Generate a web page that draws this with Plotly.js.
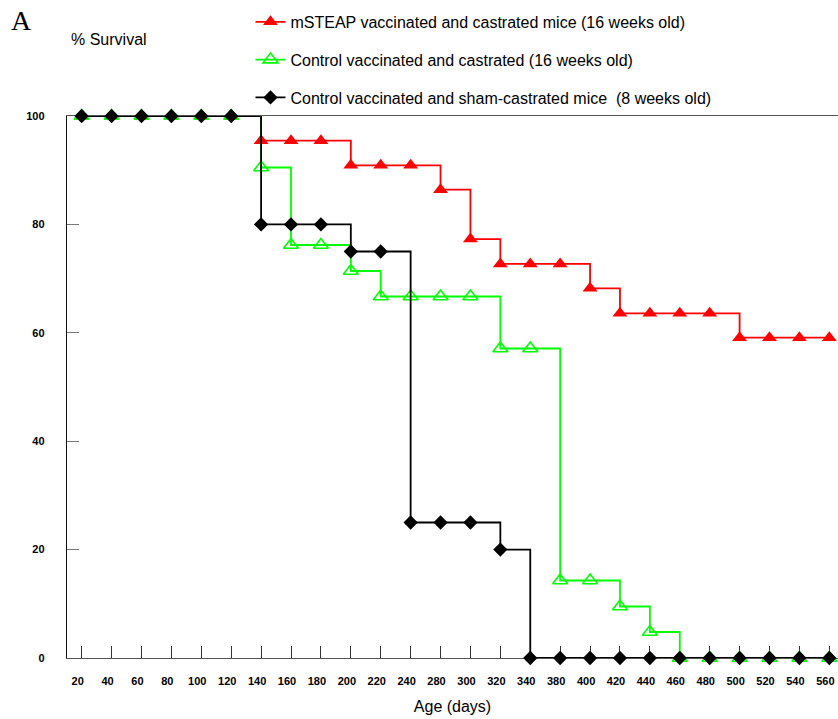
<!DOCTYPE html>
<html><head><meta charset="utf-8">
<script src="https://cdn.plot.ly/plotly-3.0.1.min.js"></script>
<style>html,body{margin:0;padding:0;background:#fff}#chart{width:838px;height:719px}</style>
</head><body><div id="chart"></div>
<script>
// Age tick labels as printed on the original axis (260 and 360 are not shown)
const ageLabels = ['20','40','60','80','100','120','140','160','180','200','220','240','280','300','320','340','380','400','420','440','460','480','500','520','540','560'];
// % survival
const mSTEAPCastrated = [100,100,100,100,100,100,95.45,95.45,95.45,90.9,90.9,90.9,86.4,77.3,72.7,72.7,72.7,68.2,63.6,63.6,63.6,63.6,59.1,59.1,59.1,59.1];
const controlCastrated = [100,100,100,100,100,100,90.5,76.2,76.2,71.4,66.7,66.7,66.7,66.7,57.1,57.1,14.3,14.3,9.5,4.8,0,0,0,0,0,0];
const controlSham = [100,100,100,100,100,100,80,80,80,75,75,25,25,25,20,0,0,0,0,0,0,0,0,0,0,0];
const seriesNames = ['mSTEAP vaccinated and castrated mice (16 weeks old)','Control vaccinated and castrated (16 weeks old)','Control vaccinated and sham-castrated mice  (8 weeks old)'];

const font = 'Arial, "Liberation Sans", Helvetica, sans-serif';
const traces = [
  {x: ageLabels, y: mSTEAPCastrated, name: seriesNames[0], legendgroup:'a', mode:'lines+markers', line:{shape:'hv', color:'#ff0000', width:1.8}, marker:{symbol:'triangle-up', size:13, color:'#ff0000'}, cliponaxis:false},
  {x: ageLabels, y: controlCastrated, name: seriesNames[1], legendgroup:'b', mode:'lines+markers', line:{shape:'hv', color:'#00ff00', width:1.8}, marker:{symbol:'triangle-up-open', size:13, color:'#00ff00', line:{width:1.6, color:'#00ff00'}}, cliponaxis:false},
  {x: ageLabels, y: controlSham, name: seriesNames[2], legendgroup:'c', mode:'lines+markers', line:{shape:'hv', color:'#000000', width:1.8}, marker:{symbol:'diamond', size:11, color:'#000000'}, cliponaxis:false}
];
const layout = {
  width: 838, height: 719,
  margin: {l:67, r:0, t:116, b:61},
  paper_bgcolor:'#fff', plot_bgcolor:'#fff',
  font: {family: font, color:'#000'},
  showlegend: true,
  legend: {x: 0.238, xanchor:'left', y: 1.205, yanchor:'top', traceorder:'grouped', tracegroupgap: 14, itemwidth:30,
           font:{family:font, size:16, color:'#000'}, bgcolor:'rgba(0,0,0,0)'},
  xaxis: {type:'category', range:[-0.49, 25.29], showgrid:false, zeroline:false, showline:true, linecolor:'#555', linewidth:1.2, mirror:true,
          ticks:'inside', ticklen:12, tickcolor:'#333', tickwidth:1, tickfont:{family:font, size:11, color:'#000', weight:'bold'},
          ticklabelshift:-4, ticklabelstandoff:13, layer:'below traces',
          title:{text:'Age (days)', font:{family:font, size:16, color:'#000'}, standoff:14}},
  yaxis: {range:[0,100], tickvals:[0,20,40,60,80,100], showgrid:false, zeroline:false, showline:true, linecolor:'#111', linewidth:1.2,
          ticks:'inside', ticklen:12, tickcolor:'#777', tickwidth:1, tickfont:{family:font, size:11, color:'#000', weight:'bold'},
          ticklabelstandoff:19, layer:'below traces'},
  annotations: [
    {text:'A', xref:'paper', yref:'paper', x:-0.075, y:1.177, xanchor:'left', yanchor:'middle', showarrow:false, font:{family:'"Liberation Serif", "Times New Roman", serif', size:28, color:'#000'}},
    {text:'% Survival', xref:'paper', yref:'paper', x:0.002, y:1.142, xanchor:'left', yanchor:'middle', showarrow:false, font:{family:font, size:16, color:'#000'}}
  ]
};
Plotly.newPlot('chart', traces, layout, {displayModeBar:false, staticPlot:true});
</script></body></html>
